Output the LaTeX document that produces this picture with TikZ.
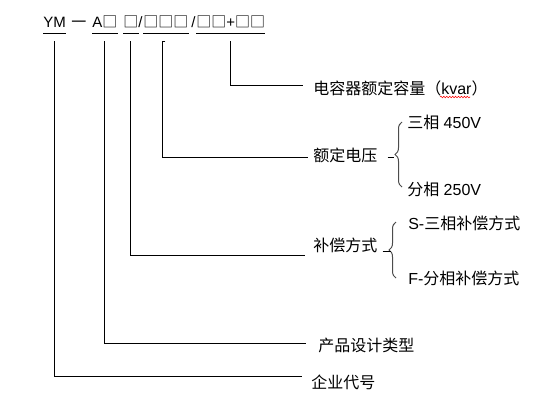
\documentclass[tikz,border=0pt]{standalone}
\usepackage{fontspec}
\setmainfont{Liberation Sans}
\newfontfamily\cjk{Noto Sans CJK SC}
\usetikzlibrary{positioning,decorations.pathreplacing,decorations.pathmorphing}

\tikzset{
  code/.style={anchor=base west, inner sep=0pt, text depth=0pt, font=\fontsize{11.25}{13}\selectfont},
  lbl/.style={anchor=west, inner sep=0pt, font=\fontsize{12}{14}\selectfont},
  lead/.style={line width=0.75pt},
  bracket/.style={decorate, decoration={brace, amplitude=5.25pt}, line width=0.75pt, black!70}
}

\begin{document}
\begin{tikzpicture}[x=0.75pt, y=-0.75pt]
        \useasboundingbox (0,0) rectangle (555,401);

        % model code
        \node[code] (ym) at (43,27) {YM};
        \node[code] (dash) at (71,27) {\cjk 一};
        \node[code] (typ) at (92,27) {A{\cjk □}};
        \node[code] (phase) at (123,27) {\cjk □};
        \node[code] (sl1) at (138,27) {/};
        \node[code] (volt) at (143,27) {\cjk □□□};
        \node[code] (sl2) at (191,27) {/};
        \node[code] (cap) at (196,27) {{\cjk □□}+{\cjk □□}};

        \foreach \g in {ym,typ,phase,volt,cap}
            \draw[lead] ([yshift=-4.5pt]\g.south west) -- ([yshift=-4.5pt]\g.south east);

        % labels
        \node[lbl] (rongliang) at (313,88) {{\cjk 电容器额定容量（}kvar{\cjk ）}};
        \node[lbl] (edian) at (313,155) {\cjk 额定电压};
        \node[lbl] (sanxiang) at (407,122) {{\cjk 三相} 450V};
        \node[lbl] (fenxiang) at (407,189) {{\cjk 分相} 250V};
        \node[lbl] (buchang) at (313,245) {\cjk 补偿方式};
        \node[lbl] (sbc) at (408,223) {S-{\cjk 三相补偿方式}};
        \node[lbl] (fbc) at (408,278) {F-{\cjk 分相补偿方式}};
        \node[lbl] (chanpin) at (318,345) {\cjk 产品设计类型};
        \node[lbl] (qiye) at (311,382) {\cjk 企业代号};

        \draw[red, line width=0.4pt, decorate, decoration={snake, amplitude=0.6pt, segment length=2.2pt}] (440,97) -- (470,97);

        % leads
        \coordinate (capTop) at ([yshift=-10.5pt]cap.south);
        \coordinate (voltTop) at ([xshift=-2.5pt,yshift=-10.5pt]volt.south);
        \coordinate (phaseTop) at ([yshift=-10.5pt]phase.south);
        \coordinate (typTop) at ([yshift=-10.5pt]typ.south);
        \coordinate (ymTop) at ([yshift=-10.5pt]ym.south);

        \draw[lead] (capTop) |- ([xshift=-7.5pt,yshift=2.25pt]rongliang.west);
        \draw[lead] ([xshift=2.25pt]voltTop) -- (voltTop) |- ([xshift=-3.75pt,yshift=-1.5pt]edian.west);
        \draw[lead] (phaseTop) |- ([xshift=-6pt,yshift=-7.5pt]buchang.west);
        \draw[lead] (typTop) |- ([xshift=-9pt,yshift=1.5pt]chanpin.west);
        \draw[lead] (ymTop) |- ([xshift=-6.75pt,yshift=4.5pt]qiye.west);

        % braces
        \draw[bracket] (402,187) -- (402,122);
        \draw[lead] ([xshift=7.5pt,yshift=-1.5pt]edian.east) -- ++(4.5pt,0);
        \draw[bracket] (396,278) -- (396,222);
        \draw[lead] ([xshift=3.75pt,yshift=-4.5pt]buchang.east) -- ++(6pt,0);
    \end{tikzpicture}
\end{document}
